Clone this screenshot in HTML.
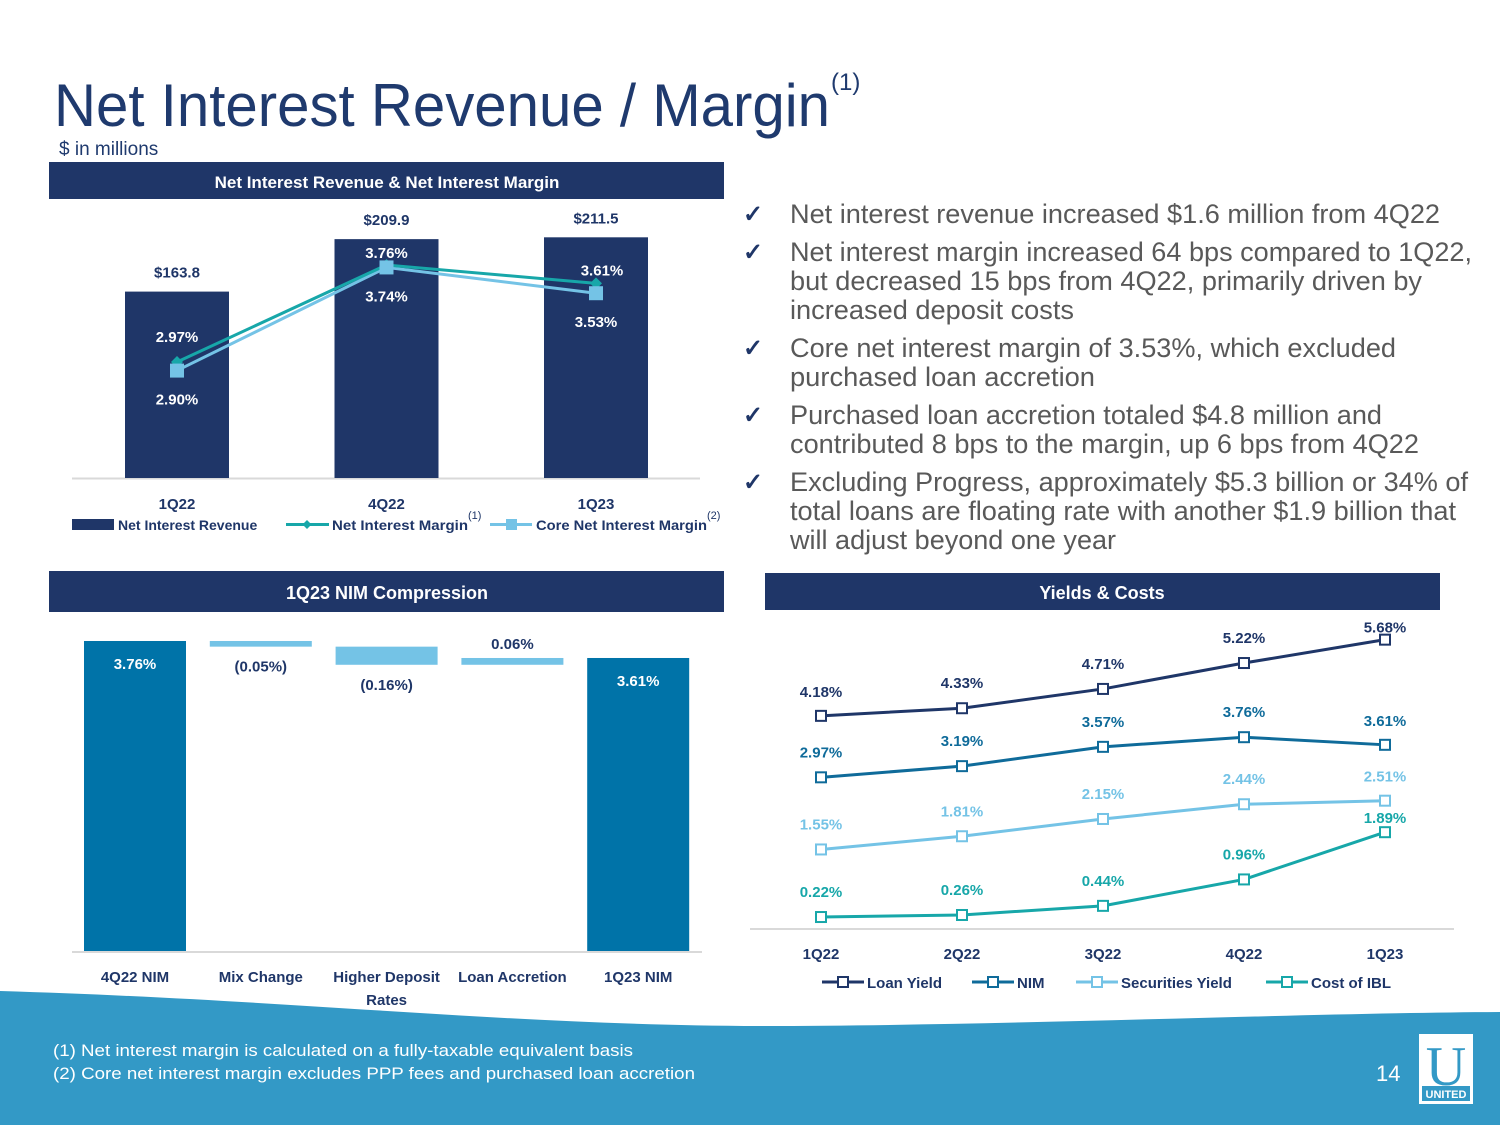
<!DOCTYPE html>
<html><head><meta charset="utf-8">
<style>
html,body{margin:0;padding:0;background:#fff;}
svg{display:block;font-family:"Liberation Sans",sans-serif;}
.lbl{font-weight:bold;font-size:15px;}
</style></head>
<body>
<svg id="slide" width="1500" height="1125" viewBox="0 0 1500 1125" xmlns="http://www.w3.org/2000/svg">
  <!-- Title -->
  <text x="54" y="126" font-size="60" fill="#1f3a6e" textLength="776" lengthAdjust="spacingAndGlyphs">Net Interest Revenue / Margin</text>
  <text x="831" y="90" font-size="24" fill="#1f3a6e">(1)</text>
  <text x="59" y="155" font-size="19" fill="#1f3a6e">$ in millions</text>

  <!-- Panel headers -->
  <rect x="49" y="162" width="675" height="37" fill="#1f3668"/>
  <text x="387" y="188" text-anchor="middle" fill="#fff" font-size="17" font-weight="bold">Net Interest Revenue &amp; Net Interest Margin</text>
  <rect x="49" y="571" width="675" height="41" fill="#1f3668"/>
  <text x="387" y="599" text-anchor="middle" fill="#fff" font-size="18" font-weight="bold">1Q23 NIM Compression</text>
  <rect x="765" y="573" width="675" height="37" fill="#1f3668"/>
  <text x="1102" y="599" text-anchor="middle" fill="#fff" font-size="18" font-weight="bold">Yields &amp; Costs</text>

  <!-- Bullets -->
  <g fill="#595959" font-size="27">
    <g fill="#1f3668" font-size="24" font-weight="bold">
      <text x="743" y="222">✓</text><text x="743" y="260">✓</text><text x="743" y="356">✓</text><text x="743" y="423">✓</text><text x="743" y="490">✓</text>
    </g>
    <text x="790" y="223" textLength="650" lengthAdjust="spacingAndGlyphs">Net interest revenue increased $1.6 million from 4Q22</text>
    <text x="790" y="261" textLength="682" lengthAdjust="spacingAndGlyphs">Net interest margin increased 64 bps compared to 1Q22,</text>
    <text x="790" y="290" textLength="632" lengthAdjust="spacingAndGlyphs">but decreased 15 bps from 4Q22, primarily driven by</text>
    <text x="790" y="319" textLength="284" lengthAdjust="spacingAndGlyphs">increased deposit costs</text>
    <text x="790" y="357" textLength="606" lengthAdjust="spacingAndGlyphs">Core net interest margin of 3.53%, which excluded</text>
    <text x="790" y="386" textLength="305" lengthAdjust="spacingAndGlyphs">purchased loan accretion</text>
    <text x="790" y="424" textLength="592" lengthAdjust="spacingAndGlyphs">Purchased loan accretion totaled $4.8 million and</text>
    <text x="790" y="453" textLength="629" lengthAdjust="spacingAndGlyphs">contributed 8 bps to the margin, up 6 bps from 4Q22</text>
    <text x="790" y="491" textLength="678" lengthAdjust="spacingAndGlyphs">Excluding Progress, approximately $5.3 billion or 34% of</text>
    <text x="790" y="520" textLength="666" lengthAdjust="spacingAndGlyphs">total loans are floating rate with another $1.9 billion that</text>
    <text x="790" y="549" textLength="326" lengthAdjust="spacingAndGlyphs">will adjust beyond one year</text>
  </g>

  <!-- Footer -->
  <path d="M0,991 C300,1000 500,1025 760,1026 C1000,1026 1300,1013 1500,1012 L1500,1125 L0,1125 Z" fill="#3399c6"/>
  <text x="53" y="1056" fill="#fff" font-size="17" textLength="580" lengthAdjust="spacingAndGlyphs">(1) Net interest margin is calculated on a fully-taxable equivalent basis</text>
  <text x="53" y="1079" fill="#fff" font-size="17" textLength="642" lengthAdjust="spacingAndGlyphs">(2) Core net interest margin excludes PPP fees and purchased loan accretion</text>
  <text x="1376" y="1081" fill="#fff" font-size="22">14</text>
  <g>
    <rect x="1419" y="1034" width="54" height="70" fill="#fff"/>
    <text x="1446" y="1085" text-anchor="middle" fill="#3399c6" font-size="56" font-family="Liberation Serif, serif">U</text>
    <rect x="1422" y="1086" width="48" height="15" fill="#3399c6"/>
    <text x="1446" y="1098" text-anchor="middle" fill="#fff" font-size="11" font-weight="bold">UNITED</text>
  </g>

  <g id="chart1"></g>
  <g id="chart2"></g>
  <g id="chart3"></g>
</svg>
<script>
// ---- Chart 1 data ----
const c1Categories = ["1Q22", "4Q22", "1Q23"];
const c1Revenue = [163.8, 209.9, 211.5];
const c1RevenueLabels = ["$163.8", "$209.9", "$211.5"];
const c1Nim = [2.97, 3.76, 3.61];
const c1CoreNim = [2.90, 3.74, 3.53];
// ---- Chart 2 data ----
const c2Categories = ["4Q22 NIM", "Mix Change", "Higher Deposit", "Loan Accretion", "1Q23 NIM"];
const c2Values = [3.76, -0.05, -0.16, 0.06, 3.61];
const c2Labels = ["3.76%", "(0.05%)", "(0.16%)", "0.06%", "3.61%"];
// ---- Chart 3 data ----
const c3Categories = ["1Q22", "2Q22", "3Q22", "4Q22", "1Q23"];
const c3LoanYield = [4.18, 4.33, 4.71, 5.22, 5.68];
const c3Nim = [2.97, 3.19, 3.57, 3.76, 3.61];
const c3SecYield = [1.55, 1.81, 2.15, 2.44, 2.51];
const c3CostIbl = [0.22, 0.26, 0.44, 0.96, 1.89];
const c3SeriesNames = ["Loan Yield", "NIM", "Securities Yield", "Cost of IBL"];

const NS = "http://www.w3.org/2000/svg";
function mk(parent, tag, attrs, text) {
  const e = document.createElementNS(NS, tag);
  for (const k in attrs) e.setAttribute(k, attrs[k]);
  if (text !== undefined) e.textContent = text;
  parent.appendChild(e);
  return e;
}
const fmt = v => v.toFixed(2) + "%";

// ===== Chart 1 =====
(function () {
  const g = document.getElementById("chart1");
  const xC = i => 177 + i * 209.5;
  const yBar = v => 478 - v * 1.138;
  const yPct = v => 726.7 - v * 122.8;
  const bw = 104;
  mk(g, "line", { x1: 72, y1: 478.5, x2: 700, y2: 478.5, stroke: "#d9d9d9", "stroke-width": 2 });
  c1Categories.forEach((c, i) => {
    const r = mk(g, "rect", { x: xC(i) - bw / 2, y: yBar(c1Revenue[i]), width: bw, height: 478 - yBar(c1Revenue[i]), fill: "#1f3668" });
    
    
    const t = mk(g, "text", { x: xC(i), y: yBar(c1Revenue[i]) - 14, "text-anchor": "middle", "class": "lbl", fill: "#1f3668" }, c1RevenueLabels[i]);
    
    
    const ct = mk(g, "text", { x: xC(i), y: 509, "text-anchor": "middle", "class": "lbl", fill: "#1f3668" }, c);
    
    
  });
  const pl = (arr) => arr.map((v, i) => xC(i) + "," + yPct(v)).join(" ");
  const l1 = mk(g, "polyline", { points: pl(c1CoreNim), fill: "none", stroke: "#74c3e6", "stroke-width": 3 });
  
  
  const l2 = mk(g, "polyline", { points: pl(c1Nim), fill: "none", stroke: "#17a7a9", "stroke-width": 3 });
  
  
  c1Nim.forEach((v, i) => {
    const m = mk(g, "path", { d: `M${xC(i)},${yPct(v) - 6} l6,6 l-6,6 l-6,-6 Z`, fill: "#17a7a9" });
    
    
    const dy = i === 1 ? -7 : (i === 2 ? -8 : -20);
    const t = mk(g, "text", { x: xC(i) + (i === 2 ? 6 : 0), y: yPct(v) + dy, "text-anchor": "middle", "class": "lbl", fill: "#fff" }, fmt(v));
    
    
  });
  c1CoreNim.forEach((v, i) => {
    const m = mk(g, "rect", { x: xC(i) - 7, y: yPct(v) - 7, width: 14, height: 14, fill: "#74c3e6" });
    
    
    const t = mk(g, "text", { x: xC(i), y: yPct(v) + 34, "text-anchor": "middle", "class": "lbl", fill: "#fff" }, fmt(v));
    
    
  });
  // legend
  const lg = mk(g, "g", {});
  
  
  mk(lg, "rect", { x: 72, y: 519, width: 42, height: 11, fill: "#1f3668" });
  mk(lg, "text", { x: 118, y: 530, "font-size": 14, "font-weight": "bold", fill: "#1f3668" }, "Net Interest Revenue");
  mk(lg, "line", { x1: 286, y1: 524.5, x2: 329, y2: 524.5, stroke: "#17a7a9", "stroke-width": 3 });
  mk(lg, "path", { d: "M307,520 l4.5,4.5 l-4.5,4.5 l-4.5,-4.5Z", fill: "#17a7a9" });
  mk(lg, "text", { x: 332, y: 530, "font-size": 14, "font-weight": "bold", fill: "#1f3668", textLength: 136, lengthAdjust: "spacingAndGlyphs" }, "Net Interest Margin");
  mk(lg, "text", { x: 468, y: 519, "font-size": 11, fill: "#1f3668" }, "(1)");
  mk(lg, "line", { x1: 490, y1: 524.5, x2: 532, y2: 524.5, stroke: "#74c3e6", "stroke-width": 3 });
  mk(lg, "rect", { x: 506, y: 519, width: 11, height: 11, fill: "#74c3e6" });
  mk(lg, "text", { x: 536, y: 530, "font-size": 14, "font-weight": "bold", fill: "#1f3668", textLength: 171, lengthAdjust: "spacingAndGlyphs" }, "Core Net Interest Margin");
  mk(lg, "text", { x: 707, y: 519, "font-size": 11, fill: "#1f3668" }, "(2)");
})();

// ===== Chart 2 =====
(function () {
  const g = document.getElementById("chart2");
  const xC = i => 135 + i * 125.8;
  const y = v => 1067 - v * 113.3;
  const base = 951;
  const bw = 102;
  mk(g, "line", { x1: 72, y1: 952, x2: 702, y2: 952, stroke: "#d9d9d9", "stroke-width": 2 });
  let run = 0;
  c2Values.forEach((v, i) => {
    const last = i === c2Values.length - 1;
    let top, bot, fill;
    if (i === 0 || last) {
      top = y(v); bot = base; fill = "#0073a8"; run = v;
    } else {
      const a = run, b = run + v; run = b;
      top = y(Math.max(a, b)); bot = y(Math.min(a, b)); fill = "#74c3e6";
    }
    const r = mk(g, "rect", { x: xC(i) - bw / 2, y: top, width: bw, height: Math.max(bot - top, 1), fill: fill });
    
    
    let ly, col;
    if (i === 0 || last) { ly = top + 28; col = "#fff"; }
    else if (v < 0) { ly = bot + 25; col = "#1f3668"; }
    else { ly = top - 9; col = "#1f3668"; }
    const t = mk(g, "text", { x: xC(i), y: ly, "text-anchor": "middle", "class": "lbl", fill: col }, c2Labels[i]);
    
    
    const ct = mk(g, "text", { x: xC(i), y: 982, "text-anchor": "middle", "class": "lbl", fill: "#1f3668" }, c2Categories[i]);
    
    
  });
  const rt = mk(g, "text", { x: xC(2), y: 1005, "text-anchor": "middle", "class": "lbl", fill: "#1f3668" }, "Rates");
  
  
})();

// ===== Chart 3 =====
(function () {
  const g = document.getElementById("chart3");
  const xC = i => 821 + i * 141;
  const y = v => 928.2 - v * 50.8;
  mk(g, "line", { x1: 750, y1: 929, x2: 1454, y2: 929, stroke: "#d9d9d9", "stroke-width": 2 });
  const series = [c3LoanYield, c3Nim, c3SecYield, c3CostIbl];
  const colors = ["#1f3668", "#0f6b9a", "#74c3e6", "#17a7a9"];
  series.forEach((arr, s) => {
    const l = mk(g, "polyline", { points: arr.map((v, i) => xC(i) + "," + y(v)).join(" "), fill: "none", stroke: colors[s], "stroke-width": 3 });
    
    
    arr.forEach((v, i) => {
      const m = mk(g, "rect", { x: xC(i) - 5, y: y(v) - 5, width: 10, height: 10, fill: "#fff", stroke: colors[s], "stroke-width": 2 });
      
      
      let dy = -20;
      if (s === 0 && i === 0) dy = -19;
      if (s === 0 && i === 4) dy = -7;
      if (s === 1 && i === 4) dy = -19;
      if (s === 2 && i === 4) dy = -19;
      if (s === 3 && i === 4) dy = -9;
      const t = mk(g, "text", { x: xC(i), y: y(v) + dy, "text-anchor": "middle", "class": "lbl", fill: colors[s] }, fmt(v));
      
      
    });
  });
  c3Categories.forEach((c, i) => {
    const t = mk(g, "text", { x: xC(i), y: 959, "text-anchor": "middle", "class": "lbl", fill: "#1f3668" }, c);
    
    
  });
  const lgX = [822, 972, 1076, 1266];
  const lgg = mk(g, "g", {});
  
  
  c3SeriesNames.forEach((n, s) => {
    mk(lgg, "line", { x1: lgX[s], y1: 982, x2: lgX[s] + 42, y2: 982, stroke: colors[s], "stroke-width": 3 });
    mk(lgg, "rect", { x: lgX[s] + 16, y: 977, width: 10, height: 10, fill: "#fff", stroke: colors[s], "stroke-width": 2 });
    mk(lgg, "text", { x: lgX[s] + 45, y: 988, "class": "lbl", fill: "#1f3668" }, n);
  });
})();
</script>
</body></html>
